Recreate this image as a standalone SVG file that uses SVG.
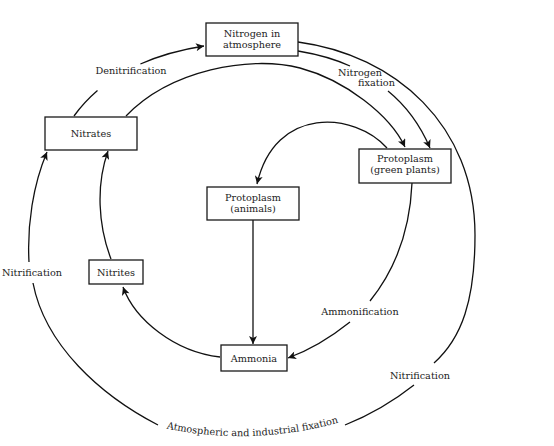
<svg xmlns="http://www.w3.org/2000/svg" width="554" height="446" viewBox="0 0 554 446">
<defs>
<style>
.box{fill:#fff;stroke:#1a1a1a;stroke-width:1.3}
.t{font-family:"DejaVu Serif","Liberation Serif",serif;font-size:9.7px;fill:#222;text-anchor:middle}
.c{fill:none;stroke:#111;stroke-width:1.3}
.a{marker-end:url(#arr)}
</style>
<marker id="arr" viewBox="0 0 10 10" refX="10" refY="5" markerUnits="userSpaceOnUse" markerWidth="10" markerHeight="8" orient="auto">
<path d="M0,0 L10,5 L0,10 L2.5,5 z" fill="#111"/>
</marker>
</defs>
<rect width="554" height="446" fill="#fff"/>
<g id="connectors">
<path class="c a" d="M140.4,64 Q168.4,51.6 204,46"/>
<path class="c" d="M74,116 Q84.25,102 97.5,90.6"/>
<path class="c a" d="M126,116 C170,70 250,55 300,68 C345,80 390,115 405,147"/>
<path class="c" d="M298,51 Q328,56 350,66"/>
<path class="c a" d="M388,91 Q415,113 430,148"/>
<path class="c a" d="M387,148 C355,112 275,105 257,184"/>
<path class="c a" d="M253,220 L253,344"/>
<path class="c" d="M412,183 C410,230 395,270 370,301"/>
<path class="c a" d="M350,322 C330,338 310,350 288,358"/>
<path class="c a" d="M220,357 C175,352 135,320 123,287"/>
<path class="c a" d="M111,259 C98,225 96,185 108,151"/>
<path class="c" d="M298,42 C395,55 475,125 475,235 C475,300 462,338 434,363"/>
<path class="c" d="M414,385 C395,400 370,415 345,425"/>
<path class="c" d="M158,425 C100,395 45,345 33,283"/>
<path class="c a" d="M29,262 C27,225 33,185 47,152"/>
</g>
<g id="labels">
<text class="t" x="131" y="74">Denitrification</text>
<text class="t" x="360" y="76">Nitrogen</text>
<text class="t" x="376.5" y="86">fixation</text>
<text class="t" x="360" y="314.5">Ammonification</text>
<text class="t" x="32" y="276">Nitrification</text>
<text class="t" x="420" y="379">Nitrification</text>
<path id="bp" d="M160,427 Q250,448 345,421" fill="none"/>
<text class="t"><textPath href="#bp" startOffset="50%">Atmospheric and industrial fixation</textPath></text>
</g>
<g id="n-atmosphere">
<rect class="box" x="206" y="23" width="92" height="33"/>
<text class="t" x="252" y="36.5">Nitrogen in</text>
<text class="t" x="252" y="47.5">atmosphere</text>
</g>
<g id="n-nitrates">
<rect class="box" x="45" y="117" width="92" height="33"/>
<text class="t" x="91" y="136.5">Nitrates</text>
</g>
<g id="n-green-plants">
<rect class="box" x="359" y="149" width="92" height="34"/>
<text class="t" x="405" y="162">Protoplasm</text>
<text class="t" x="405" y="173">(green plants)</text>
</g>
<g id="n-animals">
<rect class="box" x="207" y="187" width="92" height="33"/>
<text class="t" x="253" y="200.5">Protoplasm</text>
<text class="t" x="253" y="211.5">(animals)</text>
</g>
<g id="n-nitrites">
<rect class="box" x="89" y="260" width="54" height="24"/>
<text class="t" x="116" y="275.5">Nitrites</text>
</g>
<g id="n-ammonia">
<rect class="box" x="221" y="345" width="66" height="26"/>
<text class="t" x="254" y="361.5">Ammonia</text>
</g>
</svg>
